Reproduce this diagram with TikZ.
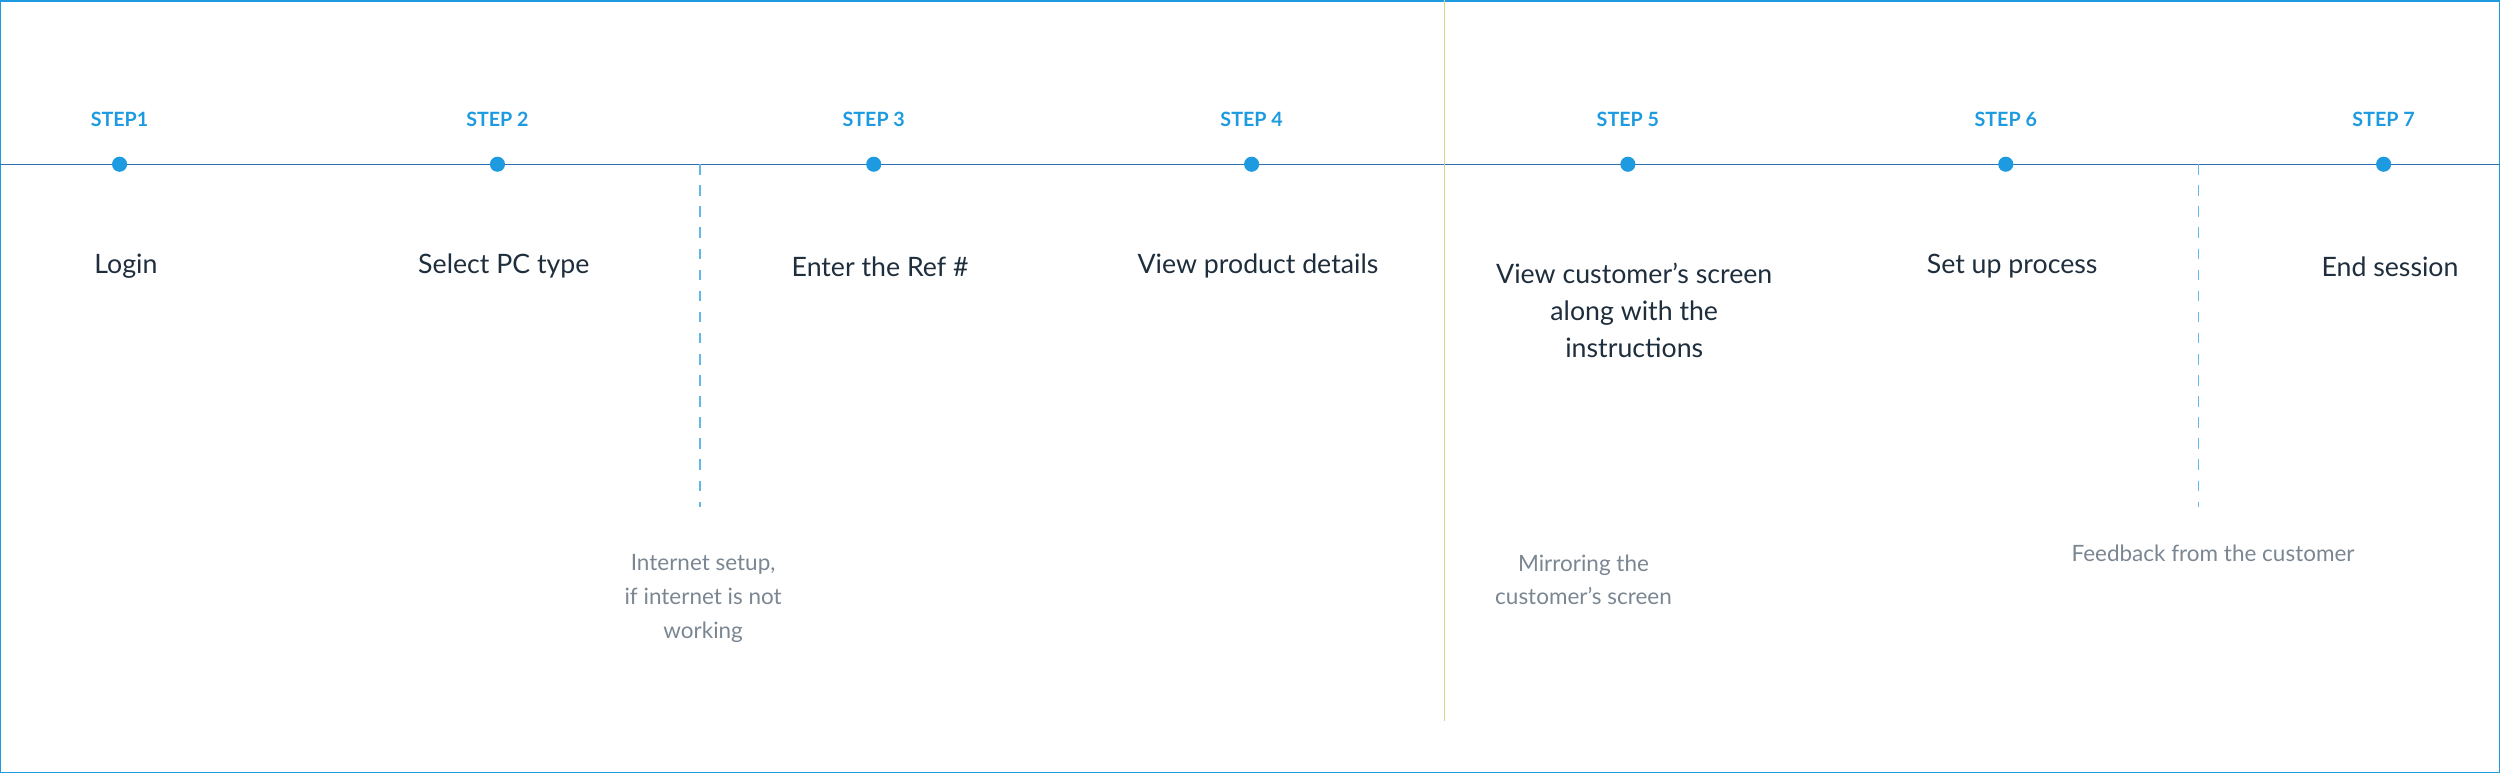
\documentclass[tikz,border=0pt]{standalone}
\usepackage{fontspec}
\setmainfont{Lato}
\definecolor{stepblue}{HTML}{1E9BE0}
\definecolor{lineblue}{HTML}{2B6FB5}
\definecolor{olive}{HTML}{D8D68A}
\definecolor{txtdark}{HTML}{1F2E3D}
\definecolor{notegray}{HTML}{7A8692}
\tikzset{
  steplabel/.style={font=\fontsize{5.6}{6}\selectfont\bfseries, text=stepblue},
  stepdot/.style={circle, fill=stepblue, inner sep=0pt, minimum size=4.3pt},
  tasklabel/.style={font=\fontsize{7.6}{10.6}\selectfont, text=txtdark, align=center},
  note/.style={font=\fontsize{6.4}{9.6}\selectfont, text=notegray, align=center},
  guide/.style={dashed, stepblue!70, thin}
}
\begin{document}
\begin{tikzpicture}[x=0.01594cm, y=-0.01594cm]
    \draw[stepblue, thin] (0.5,0.5) rectangle (1567.5,484.5);
    \useasboundingbox (0,0) rectangle (1568,485);
    \draw[lineblue, thin] (0,103) -- (1568,103);
    \draw[olive, thin] (906,0) -- (906,452);

    \foreach \n/\x/\t in {1/75/Login, 2/312/Select PC type, 3/548/Enter the Ref \#,
                          4/785/View product details, 6/1258/Set up process, 7/1495/End session}
    {
      \node[stepdot] (dot\n) at (\x,103) {};
      \node[tasklabel] (task\n) at (\x+4,167) {\t};
    }
    \node[stepdot] (dot5) at (1021,103) {};
    \node[tasklabel, anchor=north] (task5) at (1025,157) {View customer’s screen\\along with the\\instructions};

    \node[steplabel] (step1) at (75,75) {STEP1};
    \foreach \n/\x in {2/312,3/548,4/785,5/1021,6/1258,7/1495}
      \node[steplabel] (step\n) at (\x,75) {STEP \n};

    \coordinate (guideA) at (439,318);
    \coordinate (guideB) at (1379,318);
    \draw[guide] (439,103) -- (guideA);
    \draw[guide] (1379,103) -- (guideB);

    \node[note, anchor=north] (noteA) at (441,340) {Internet setup,\\if internet is not\\working};
    \node[note, anchor=north west] (noteB) at (930,340) {Mirroring the\\customer’s screen};
    \node[note] (noteC) at (1388,347) {Feedback from the customer};
\end{tikzpicture}
\end{document}
